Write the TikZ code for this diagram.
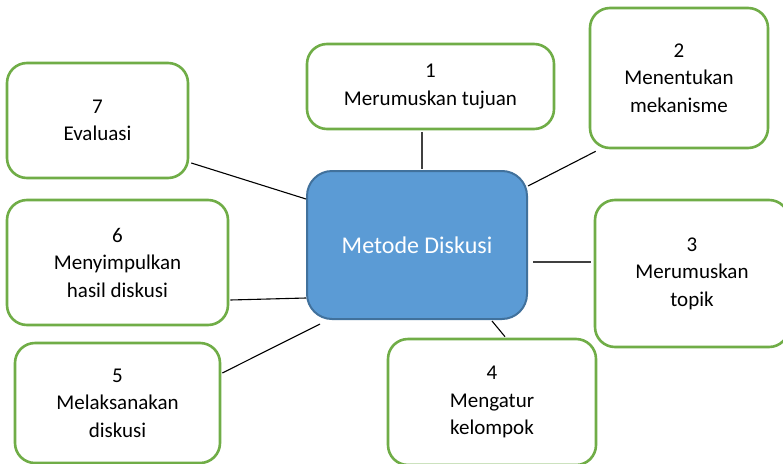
\documentclass[tikz,border=0pt]{standalone}
\usepackage{fontspec}
\setmainfont{Carlito}
\usetikzlibrary{calc}
\definecolor{boxgreen}{HTML}{70AD47}
\definecolor{boxblue}{HTML}{5B9BD5}
\definecolor{blueborder}{HTML}{41719C}
\begin{document}
\begin{tikzpicture}[x=1pt,y=-1pt,
  item/.style={draw=boxgreen, line width=2.6pt, fill=white, rounded corners=20pt,
    rectangle, align=center, inner sep=0pt, font=\fontsize{21}{27.5}\selectfont, text=black},
  hub/.style={draw=blueborder, line width=2pt, fill=boxblue, rounded corners=25pt,
    rectangle, align=center, inner sep=0pt, font=\fontsize{24}{29}\selectfont, text=white},
  link/.style={draw=black, line width=1.1pt},
  darklink/.style={draw=black!75, line width=1.6pt}]
\useasboundingbox (0,0) rectangle (783,463);
\fill[white] (0,0) rectangle (783,463);

\node[hub, minimum width=220pt, minimum height=148pt] (c) at (417,245) {Metode Diskusi};

\node[item, minimum width=247pt, minimum height=85pt] (n1) at (430.5,86.5) {1\\Merumuskan tujuan};
\node[item, minimum width=178pt, minimum height=140pt] (n2) at (679,78) {2\\Menentukan\\mekanisme};
\node[item, minimum width=194pt, minimum height=147pt] (n3) at (692,273.5) {3\\Merumuskan\\topik};
\node[item, minimum width=208pt, minimum height=126pt] (n4) at (492,402) {4\\Mengatur\\kelompok};
\node[item, minimum width=205pt, minimum height=120pt] (n5) at (117.5,403) {5\\Melaksanakan\\diskusi};
\node[item, minimum width=221pt, minimum height=125pt] (n6) at (117.5,262.5) {6\\Menyimpulkan\\hasil diskusi};
\node[item, minimum width=181pt, minimum height=115pt] (n7) at (97.5,120.5) {7\\Evaluasi};

\draw[darklink] ($(n1.south)+(-8.5,1.5)$) -- ($(c.north)+(5,-1)$);
\draw[link] ($(n2.south west)+(7,2)$) -- ($(c.east)+(0,-59)$);
\draw[darklink] ($(c.east)+(5,17)$) -- ($(n3.west)+(-3,-11.5)$);
\draw[link] ($(c.south)+(75,1)$) -- ($(n4.north)+(13,-1)$);
\draw[link] ($(n5.east)+(1,-30)$) -- ($(c.south west)+(14,4)$);
\draw[link] ($(n6.east)+(1,37.5)$) -- ($(c.west)+(0,53)$);
\draw[link] ($(n7.east)+(2,42.5)$) -- ($(c.west)+(0,-46)$);
\end{tikzpicture}
\end{document}
